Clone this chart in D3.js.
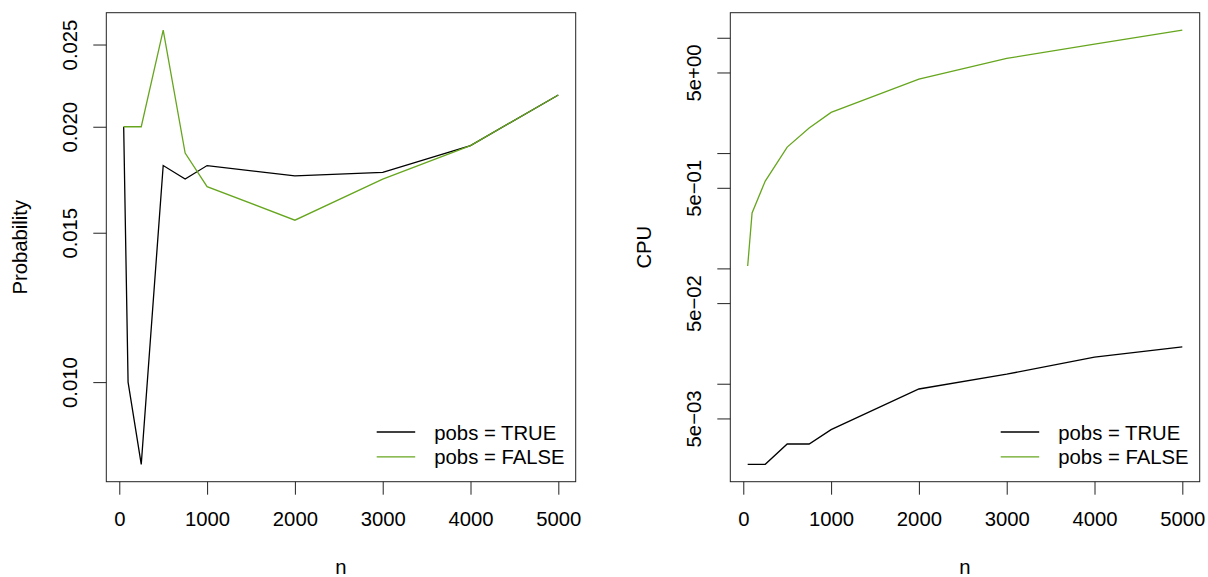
<!DOCTYPE html>
<html>
<head>
<meta charset="utf-8">
<script src="https://cdn.jsdelivr.net/npm/d3@7"></script>
<style>
  body { margin: 0; background: #fff; }
  svg { display: block; font-family: "Liberation Sans", Arial, sans-serif; }
</style>
</head>
<body>
<div id="chart"></div>
<script>
// sample sizes on the x axis
const nValues = [50, 100, 250, 500, 750, 1000, 2000, 3000, 4000, 5000];

// left panel: probability
const probTrue  = [0.020, 0.010, 0.0080, 0.0180, 0.01735, 0.0180, 0.0175, 0.01767, 0.0190, 0.0218];
const probFalse = [0.020, 0.020, 0.020, 0.0260, 0.01862, 0.0170, 0.01552, 0.01735, 0.0190, 0.0218];
const probTicks = [0.010, 0.015, 0.020, 0.025];

// right panel: CPU time
const cpuTrue  = [0.0020, 0.0020, 0.0020, 0.0030, 0.0030, 0.0040, 0.0090, 0.0121, 0.0170, 0.0209];
const cpuFalse = [0.105, 0.303, 0.572, 1.127, 1.647, 2.255, 4.385, 6.62, 8.8, 11.66];
const cpuTicks = [0.005, 0.01, 0.05, 0.1, 0.5, 1, 5, 10];

const xTicks = [0, 1000, 2000, 3000, 4000, 5000];
const seriesNames = ["pobs = TRUE", "pobs = FALSE"];
const seriesColors = ["#000000", "#66A61E"];

const width = 1208, height = 577;
const plotTop = 12.7, plotBottom = 481.7;
const fontSize = 20.3;

const svg = d3.select("#chart").append("svg")
    .attr("width", width)
    .attr("height", height);

// R style 4% padding of the data range
function padLinear(ext) {
    const d = (ext[1] - ext[0]) * 0.04;
    return [ext[0] - d, ext[1] + d];
}
function padLog(ext) {
    const l0 = Math.log10(ext[0]), l1 = Math.log10(ext[1]);
    const d = (l1 - l0) * 0.04;
    return [Math.pow(10, l0 - d), Math.pow(10, l1 + d)];
}

function expLabel(v) {
    const e = Math.floor(Math.log10(v) + 1e-9);
    const m = Math.round(v / Math.pow(10, e));
    const s = e < 0 ? "\u2212" : "+";
    return m + "e" + s + String(Math.abs(e)).padStart(2, "0");
}

function drawPanel(opts) {
    const g = svg.append("g");
    const x = d3.scaleLinear()
        .domain(padLinear(d3.extent(nValues)))
        .range([opts.left, opts.right]);
    const allY = opts.series.flat();
    const y = d3.scaleLog()
        .domain(padLog(d3.extent(allY)))
        .range([plotBottom, plotTop]);

    // x axis
    const xa = g.append("g")
        .attr("transform", `translate(0,${plotBottom})`)
        .call(d3.axisBottom(x).tickValues(xTicks).tickSize(13).tickPadding(17).tickFormat(d3.format("d")));
    xa.select(".domain").remove();
    xa.selectAll("line").attr("stroke", "#222");
    xa.selectAll("text").attr("font-size", fontSize).attr("fill", "#000").attr("font-family", null);

    // y axis
    const ya = g.append("g")
        .attr("transform", `translate(${opts.left},0)`)
        .call(d3.axisLeft(y).tickValues(opts.ticks).tickSize(13).tickFormat(opts.format));
    ya.select(".domain").remove();
    ya.selectAll("line").attr("stroke", "#222");
    ya.selectAll("text")
        .attr("font-size", fontSize).attr("fill", "#000").attr("font-family", null)
        .attr("x", null).attr("dy", null)
        .attr("text-anchor", "middle")
        .attr("transform", "translate(-29,0) rotate(-90)");

    // box
    g.append("rect")
        .attr("x", opts.left).attr("y", plotTop)
        .attr("width", opts.right - opts.left).attr("height", plotBottom - plotTop)
        .attr("fill", "none").attr("stroke", "#222").attr("stroke-width", 1);

    // lines
    const line = d3.line()
        .x((d, i) => x(nValues[i]))
        .y(d => y(d));
    opts.series.forEach((s, i) => {
        g.append("path")
            .datum(s)
            .attr("d", line)
            .attr("fill", "none")
            .attr("stroke", seriesColors[i])
            .attr("stroke-width", 1.3);
    });

    // axis titles
    g.append("text")
        .attr("x", (opts.left + opts.right) / 2).attr("y", 574)
        .attr("text-anchor", "middle").attr("font-size", fontSize)
        .text("n");
    g.append("text")
        .attr("transform", `translate(${opts.left - 79.5},${(plotTop + plotBottom) / 2}) rotate(-90)`)
        .attr("text-anchor", "middle").attr("font-size", fontSize)
        .text(opts.ylab);

    // legend (bottom right, no box)
    seriesNames.forEach((name, i) => {
        const ly = plotBottom - 49.7 + i * 24.8;
        g.append("line")
            .attr("x1", opts.right - 199).attr("x2", opts.right - 160.5)
            .attr("y1", ly).attr("y2", ly)
            .attr("stroke", seriesColors[i]).attr("stroke-width", 1.3);
        g.append("text")
            .attr("x", opts.right - 141.4).attr("y", ly + 7.5)
            .attr("font-size", fontSize)
            .text(name);
    });
}

drawPanel({
    left: 106.3, right: 575.7,
    series: [probTrue, probFalse],
    ticks: probTicks,
    format: d3.format(".3f"),
    ylab: "Probability"
});

drawPanel({
    left: 730.3, right: 1199.7,
    series: [cpuTrue, cpuFalse],
    ticks: cpuTicks,
    format: v => (Math.abs(Math.log10(v) - Math.round(Math.log10(v))) < 1e-9 ? "" : expLabel(v)),
    ylab: "CPU"
});
</script>
</body>
</html>
